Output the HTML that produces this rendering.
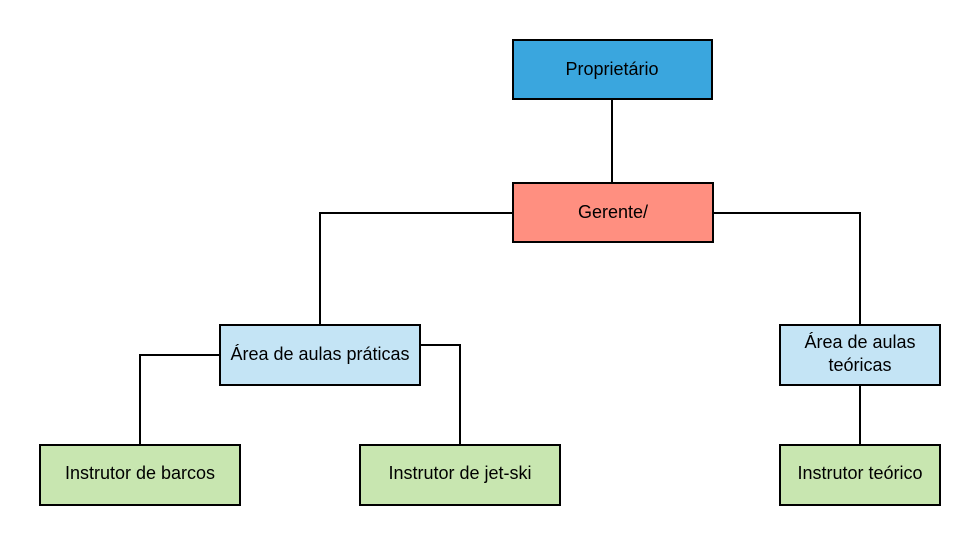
<!DOCTYPE html>
<html><head><meta charset="utf-8"><style>
body{margin:0;background:#fff;}
svg text{font-family:"Liberation Sans",sans-serif;font-size:18px;fill:#000;text-anchor:middle;dominant-baseline:central;}
</style></head><body>
<svg width="980" height="545" xmlns="http://www.w3.org/2000/svg">
<g stroke="#000" stroke-width="2" fill="none">
<path d="M612 99V183"/>
<path d="M513 213H320V325"/>
<path d="M713 213H860V325"/>
<path d="M220 355H140V445"/>
<path d="M420 345H460V445"/>
<path d="M860 385V445"/>
</g>
<g stroke="#000" stroke-width="2">
<rect x="513" y="40" width="199" height="59" fill="#3aa6de"/>
<rect x="513" y="183" width="200" height="59" fill="#ff8f80"/>
<rect x="220" y="325" width="200" height="60" fill="#c4e4f5"/>
<rect x="780" y="325" width="160" height="60" fill="#c4e4f5"/>
<rect x="40" y="445" width="200" height="60" fill="#c8e6b0"/>
<rect x="360" y="445" width="200" height="60" fill="#c8e6b0"/>
<rect x="780" y="445" width="160" height="60" fill="#c8e6b0"/>
</g>
<g font-size="18">
<text x="612" y="69" font-size="18">Proprietário</text>
<text x="613" y="212" font-size="18">Gerente/</text>
<text x="320" y="354" font-size="18">Área de aulas práticas</text>
<text x="860" y="342" font-size="18">Área de aulas</text>
<text x="860" y="365" font-size="18">teóricas</text>
<text x="140" y="473" font-size="18">Instrutor de barcos</text>
<text x="460" y="473" font-size="18">Instrutor de jet-ski</text>
<text x="860" y="473" font-size="18">Instrutor teórico</text>
</g>
</svg>
</body></html>
